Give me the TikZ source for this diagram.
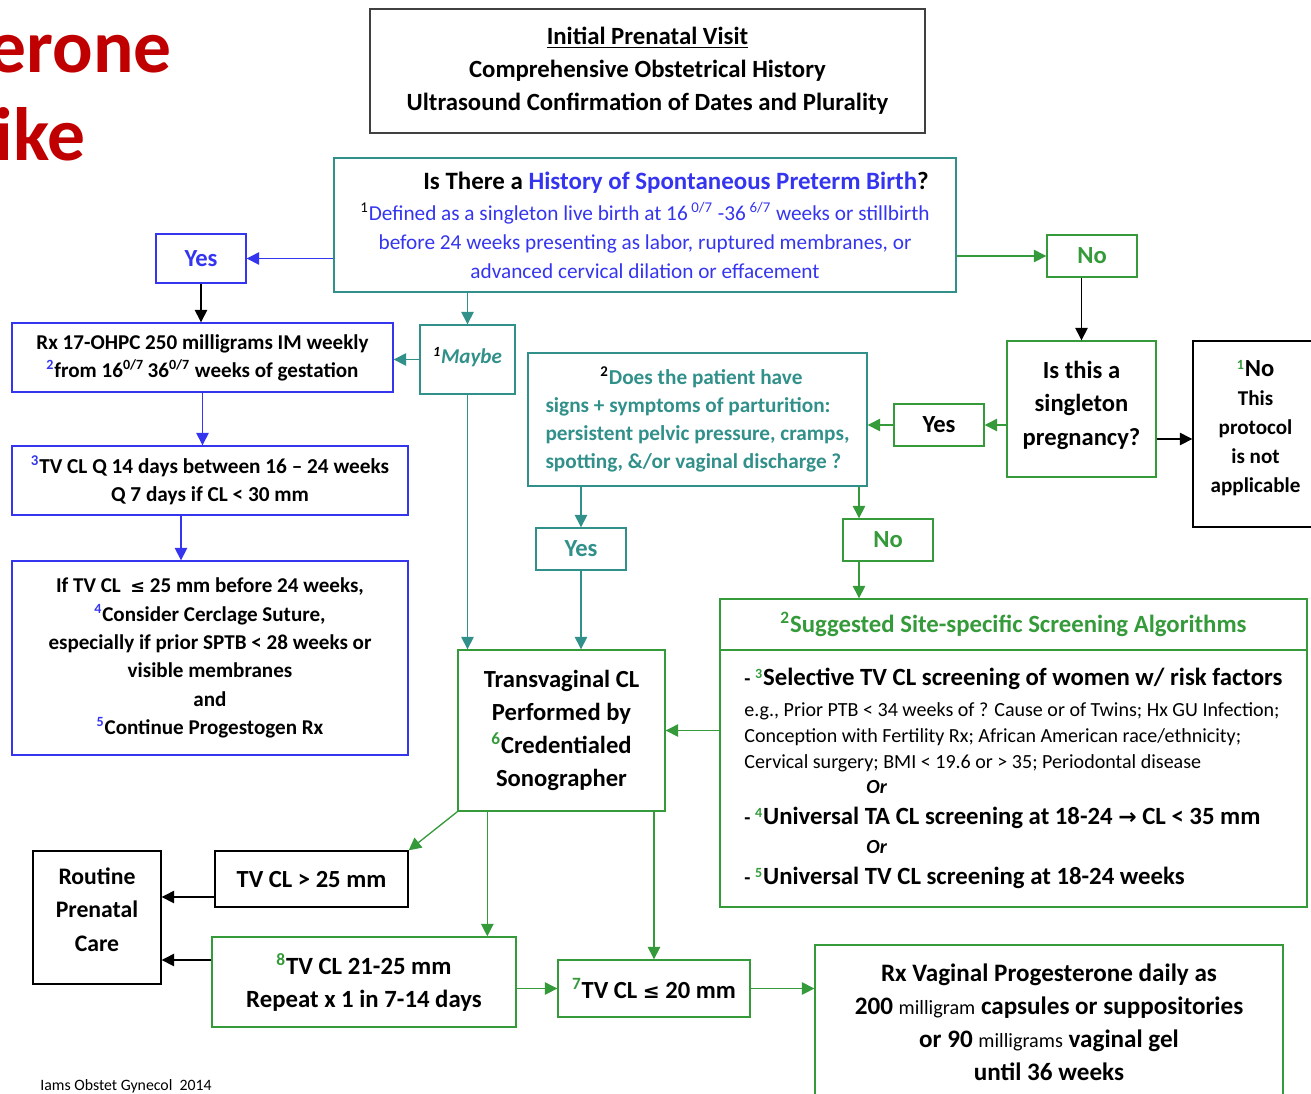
\documentclass[tikz,border=0pt]{standalone}
\usepackage{fontspec}
\setmainfont{Carlito}
\newfontfamily\symfont{DejaVu Sans}
\usetikzlibrary{arrows.meta,positioning,calc}
\definecolor{obblue}{HTML}{3535F0}
\definecolor{obteal}{HTML}{31908A}
\definecolor{obgreen}{HTML}{349A3A}
\definecolor{obred}{HTML}{C00000}
\definecolor{obgray}{HTML}{404040}
\newcommand{\obsup}[2]{\textsuperscript{\textcolor{#1}{#2}}}
\newcommand{\obfs}[2]{\fontsize{#1}{#2}\selectfont}

\begin{document}
\begin{tikzpicture}[x=0.02cm, y=-0.02cm, >={Triangle[length=0.25cm,width=0.25cm]},
  box/.style={draw, line width=0.8pt, align=center, inner sep=0pt},
  lab/.style={box, minimum width=1.8cm, minimum height=0.84cm, font=\bfseries\obfs{14}{17}},
  arr/.style={->, line width=0.75pt}]
  \useasboundingbox (0,0) rectangle (1311,1093);

  % slide title, cut at the left edge
  \node[anchor=base east, inner sep=0pt, text=obred, font=\bfseries\obfs{43}{43}] (titlea) at (172,72) {erone};
  \node[anchor=base east, inner sep=0pt, text=obred, font=\bfseries\obfs{43}{43}] (titleb) at (86,160) {ike};

  % top row
  \node[box, draw=obgray, line width=1.1pt, minimum width=11.1cm, minimum height=2.48cm, font=\bfseries\obfs{14.1}{18.7}] (initial) at (647.5,71)
    {\underline{Initial Prenatal Visit}\\Comprehensive Obstetrical History\\Ultrasound Confirmation of Dates and Plurality};
  \node[box, draw=obteal, minimum width=12.44cm, minimum height=2.68cm, text=obblue, font=\obfs{12.1}{16.4}] (history) at (645,225)
    {\hspace*{1.24cm}{\bfseries\obfs{14.2}{16.4}\textcolor{black}{Is There a} History of Spontaneous Preterm Birth\textcolor{black}{?}}\\[1.5pt]
     \obsup{black}{1}Defined as a singleton live birth at 16\,\textsuperscript{0/7} -36\,\textsuperscript{6/7} weeks or stillbirth\\
     before 24 weeks presenting as labor, ruptured membranes, or\\
     advanced cervical dilation or effacement};
  \node[lab, draw=obblue, text=obblue, minimum height=0.98cm] (yes1) at (201,258.5) {Yes};
  \node[lab, draw=obgreen, text=obgreen] (no1) at (1092,256) {No};

  % left column
  \node[box, draw=obblue, minimum width=7.62cm, minimum height=1.38cm, font=\bfseries\obfs{12}{15.9}] (rx17) at (202.5,357.5)
    {Rx 17-OHPC 250 milligrams IM weekly\\\obsup{obblue}{2}from 16\textsuperscript{0/7}\,36\textsuperscript{0/7} weeks of gestation};
  \node[box, draw=obteal, minimum width=1.9cm, minimum height=1.38cm, text=obteal, font=\bfseries\itshape\obfs{12}{15}] (maybe) at (467.5,359.5)
    {\obsup{black}{1}Maybe\\[-10.5pt]};
  \node[box, draw=obblue, minimum width=7.92cm, minimum height=1.38cm, font=\bfseries\obfs{12.1}{15.9}] (tvq) at (210,480.5)
    {\obsup{obblue}{3}TV CL Q 14 days between 16 -- 24 weeks\\Q 7 days if CL < 30 mm};
  \node[box, draw=obblue, minimum width=7.92cm, minimum height=3.88cm, font=\bfseries\obfs{12}{16.1}] (cerclage) at (210,658)
    {If TV CL \ {\symfont\obfs{10}{16.1}≤} 25 mm before 24 weeks,\\\obsup{obblue}{4}Consider Cerclage Suture,\\especially if prior SPTB < 28 weeks or\\visible membranes\\and\\\obsup{obblue}{5}Continue Progestogen Rx};

  % right column
  \node[box, draw=obgreen, minimum width=2.98cm, minimum height=2.72cm, font=\bfseries\obfs{14}{19}] (single) at (1081.5,409)
    {Is this a\\singleton\\pregnancy?\\[-12.2pt]};
  \node[box, draw=black, minimum width=2.5cm, minimum height=3.72cm, font=\bfseries\obfs{12}{16.4}] (notapp) at (1255.5,434)
    {\obsup{obgreen}{1}{\obfs{14}{16.4}No}\\This\\protocol\\is not\\applicable\\[-7.4pt]};
  \node[lab, draw=obgreen] (yes2) at (939,425) {Yes};
  \node[box, draw=obteal, minimum width=6.78cm, minimum height=2.66cm, align=left, text=obteal, font=\bfseries\obfs{12.1}{16}] (signs) at (697.5,419.5)
    {\hspace*{1.1cm}\obsup{black}{2}Does the patient have\\signs + symptoms of parturition:\\persistent pelvic pressure, cramps,\\spotting, \&/or vaginal discharge ?};
  \node[lab, draw=obteal, text=obteal] (yes3) at (581,549) {Yes};
  \node[lab, draw=obgreen, text=obgreen] (no2) at (888,540) {No};

  % screening algorithms
  \node[box, draw=obgreen, minimum width=11.74cm, minimum height=1.02cm, text=obgreen, font=\bfseries\obfs{14.1}{16}] (screenhead) at (1013.5,624.5)
    {\obsup{obgreen}{2}Suggested Site-specific Screening Algorithms};
  \node[box, draw=obgreen, minimum width=11.74cm, minimum height=5.14cm, align=left, font=\obfs{11.4}{14.7}] (screenbody) at (1013.5,778.5)
    {{\bfseries -\ \obsup{obgreen}{3}\obfs{14.1}{14.7}Selective TV CL screening of women w/ risk factors}\\[2.9pt]
     e.g., Prior PTB < 34 weeks of ? Cause or of Twins; Hx GU Infection;\\
     Conception with Fertility Rx; African American race/ethnicity;\\
     Cervical surgery; BMI < 19.6 or > 35; Periodontal disease\\
     \hspace*{2.44cm}{\bfseries\itshape Or}\\[2.9pt]
     {\bfseries -\ \obsup{obgreen}{4}\obfs{14.1}{14.7}Universal TA CL screening at 18-24 {\symfont\obfs{12.5}{14.7}→} CL < 35 mm}\\[1.8pt]
     \hspace*{2.44cm}{\bfseries\itshape Or}\\[2.9pt]
     {\bfseries -\ \obsup{obgreen}{5}\obfs{14.1}{14.7}Universal TV CL screening at 18-24 weeks}};

  % measurement and outcomes
  \node[box, draw=obgreen, minimum width=4.14cm, minimum height=3.22cm, font=\bfseries\obfs{14}{18.9}] (tvcl) at (561.5,730.5)
    {Transvaginal CL\\Performed by\\\obsup{obgreen}{6}Credentialed\\Sonographer};
  \node[box, draw=black, minimum width=3.86cm, minimum height=1.12cm, font=\bfseries\obfs{14}{17}] (gt25) at (311.5,879)
    {TV CL > 25 mm};
  \node[box, draw=black, minimum width=2.56cm, minimum height=2.66cm, font=\bfseries\obfs{13.5}{19}] (routine) at (97,917.5)
    {Routine\\Prenatal\\Care\\[-10pt]};
  \node[box, draw=obgreen, minimum width=6.08cm, minimum height=1.8cm, font=\bfseries\obfs{14.1}{18.7}] (mid) at (364,982)
    {\obsup{obgreen}{8}TV CL 21-25 mm\\Repeat x 1 in 7-14 days};
  \node[box, draw=obgreen, minimum width=3.84cm, minimum height=1.14cm, font=\bfseries\obfs{14}{17}] (le20) at (654,988.5)
    {\obsup{obgreen}{7}TV CL {\symfont\obfs{11.5}{17}≤} 20 mm};
  \node[box, draw=obgreen, minimum width=9.36cm, minimum height=3.1cm, font=\bfseries\obfs{14.3}{18.7}] (vaginal) at (1049,1022.5)
    {Rx Vaginal Progesterone daily as\\200 {\mdseries\obfs{11.5}{18.7}milligram} capsules or suppositories\\or 90 {\mdseries\obfs{11.5}{18.7}milligrams} vaginal gel\\until 36 weeks};

  \node[anchor=base west, inner sep=0pt, font=\obfs{9}{10}] (source) at (40,1090) {Iams Obstet Gynecol\ \ 2014};

  % connectors
  \draw[arr, obblue] (yes1.east -| history.west) -- (yes1.east);
  \draw[arr, obgreen] (no1.west -| history.east) -- (no1.west);
  \draw[arr] (yes1.south) -- (rx17.north -| yes1.south);
  \draw[arr, obteal] (maybe.north |- history.south) -- (maybe.north);
  \draw[arr, obteal] (maybe.west) -- (maybe.west -| rx17.east);
  \draw[arr, obteal] (maybe.south) -- (maybe.south |- tvcl.north);
  \draw[arr, obblue] (rx17.south) -- (rx17.south |- tvq.north);
  \coordinate (tvqout) at ($(tvq.south)+(-29,0)$);
  \draw[arr, obblue] (tvqout) -- (tvqout |- cerclage.north);
  \draw[arr] (single.north |- no1.south) -- (single.north);
  \coordinate (singleout) at ($(single.east)+(0,30)$);
  \draw[arr] (singleout) -- (singleout -| notapp.west);
  \draw[arr, obgreen] (yes2.east -| single.west) -- (yes2.east);
  \draw[arr, obgreen] (yes2.west) -- (yes2.west -| signs.east);
  \draw[arr, obteal] (yes3.north |- signs.south) -- (yes3.north);
  \draw[arr, obteal] (yes3.south) -- (yes3.south |- tvcl.north);
  \coordinate (noline) at ($(no2.north)+(-29,0)$);
  \draw[arr, obgreen] (noline |- signs.south) -- (noline);
  \draw[arr, obgreen] (noline |- no2.south) -- (noline |- screenhead.north);
  \draw[arr, obgreen] (tvcl.east -| screenbody.west) -- (tvcl.east);
  \draw[arr, obgreen] (tvcl.south west) -- (gt25.north east);
  \coordinate (tvcldrop) at ($(tvcl.south west)+(30,0)$);
  \draw[arr, obgreen] (tvcldrop) -- (tvcldrop |- mid.north);
  \draw[arr, obgreen] (le20.north |- tvcl.south) -- (le20.north);
  \coordinate (gtout) at ($(gt25.west)+(0,18)$);
  \draw[arr] (gtout) -- (gtout -| routine.east);
  \coordinate (midout) at ($(mid.west)+(0,-22)$);
  \draw[arr] (midout) -- (midout -| routine.east);
  \draw[arr, obgreen] (le20.west -| mid.east) -- (le20.west);
  \draw[arr, obgreen] (le20.east) -- (le20.east -| vaginal.west);
\end{tikzpicture}
\end{document}
